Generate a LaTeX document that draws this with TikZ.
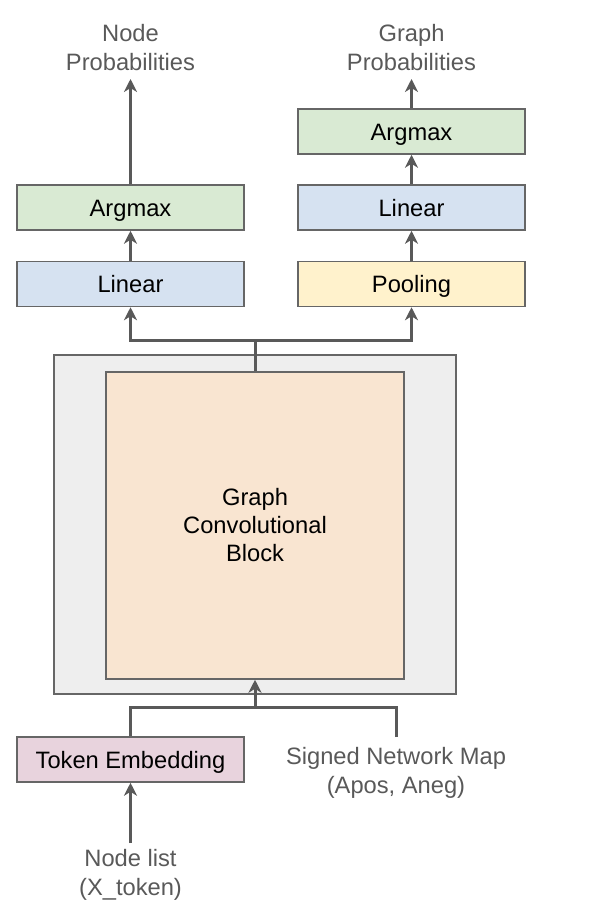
\documentclass[tikz,border=0pt]{standalone}
\usepackage{fontspec}
\setmainfont{Liberation Sans}
\usetikzlibrary{arrows.meta}
\definecolor{linec}{HTML}{595959}
\definecolor{borderc}{HTML}{666666}
\definecolor{labelc}{HTML}{595959}
\definecolor{fgreen}{HTML}{D9EAD3}
\definecolor{fblue}{HTML}{D6E2F1}
\definecolor{fyellow}{HTML}{FFF2CC}
\definecolor{fpink}{HTML}{E8D3DD}
\definecolor{forange}{HTML}{F9E5D1}
\definecolor{fgray}{HTML}{EEEEEE}
\tikzset{
  box/.style={draw=borderc, line width=1.5bp, minimum width=227bp, minimum height=45bp, inner sep=0pt, text=black, text height=17bp, text depth=0pt, font=\fontsize{23.7bp}{29bp}\selectfont},
  lbl/.style={text=labelc, align=center, inner sep=0pt, font=\fontsize{23.7bp}{29bp}\selectfont},
  conn/.style={draw=linec, line width=3bp},
  arr/.style={conn, -{Stealth[length=13bp, width=13bp, inset=4bp]}},
}
\begin{document}
\begin{tikzpicture}[x=1bp, y=-1bp]
\useasboundingbox (0,0) rectangle (590,914);
% top blocks
\node[box, fill=fgreen] (argL) at (130.5,207.5) {Argmax};
\node[box, fill=fblue] (linL) at (130.5,284) {Linear};
\node[box, fill=fgreen] (argR) at (411.5,131.5) {Argmax};
\node[box, fill=fblue] (linR) at (411.5,207.5) {Linear};
\node[box, fill=fyellow] (pool) at (411.5,284) {Pooling};
% output labels
\node[lbl] (outL) at (130.5,47.5) {Node\\Probabilities};
\node[lbl] (outR) at (411.5,47.5) {Graph\\Probabilities};
% big block
\node[draw=borderc, line width=1.5bp, fill=fgray, minimum width=402bp, minimum height=339bp, inner sep=0pt] (outer) at (255,524.5) {};
\node[draw=borderc, line width=1.5bp, fill=forange, minimum width=298bp, minimum height=307bp, inner sep=0pt, align=center, font=\fontsize{23.7bp}{28bp}\selectfont] (inner) at (255,525.5) {Graph\\Convolutional\\Block};
% inputs
\node[box, fill=fpink] (tok) at (130.5,759.5) {Token Embedding};
\node[lbl] (snm) at (396,773) {Signed Network Map\\(Apos, Aneg)};
\node[lbl] (nl) at (130.5,874.5) {Node list\\(X\_token)};
\coordinate (snmtop) at (396,737);
\coordinate (nltop) at (130.5,843);
\coordinate (outLbot) at (130.5,79);
\coordinate (outRbot) at (411.5,79);
% connectors
\draw[arr] (argL.north) -- (outLbot);
\draw[arr] (argR.north) -- (outRbot);
\draw[arr] (linL.north) -- (argL.south);
\draw[arr] (linR.north) -- (argR.south);
\draw[arr] (pool.north) -- (linR.south);
\coordinate (ts) at (255,340);
\draw[conn] (inner.north) -- (ts);
\draw[arr] (ts) -| (linL.south);
\draw[arr] (ts) -| (pool.south);
\coordinate (bs) at (255,707);
\draw[arr] (bs) -- (inner.south);
\draw[conn] (tok.north) |- (bs);
\draw[conn] (snmtop) |- (bs);
\draw[arr] (nltop) -- (tok.south);
\end{tikzpicture}
\end{document}
